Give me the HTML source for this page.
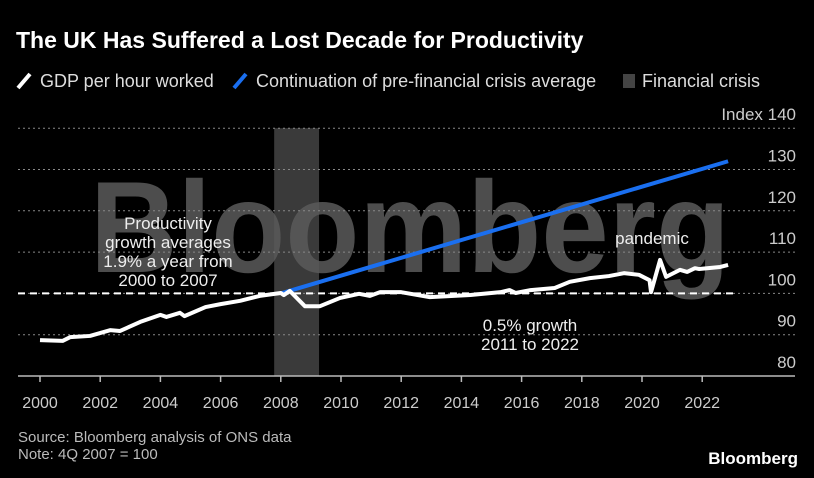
<!DOCTYPE html>
<html><head><meta charset="utf-8"><style>
html,body{margin:0;padding:0;background:#000;}
svg{display:block;font-family:"Liberation Sans",sans-serif;}
</style></head><body>
<svg id="c" width="814" height="478" viewBox="0 0 814 478">
<rect width="814" height="478" fill="#000"/>
<text x="16" y="48" fill="#fff" font-size="23" font-weight="bold">The UK Has Suffered a Lost Decade for Productivity</text>
<g font-size="18" fill="#ddd">
<line x1="18" y1="88" x2="30" y2="74" stroke="#fff" stroke-width="4"/>
<text x="40" y="87">GDP per hour worked</text>
<line x1="234" y1="88" x2="246" y2="74" stroke="#1a6ff0" stroke-width="4"/>
<text x="256" y="87">Continuation of pre-financial crisis average</text>
<rect x="623" y="74" width="12" height="14" fill="#444"/>
<text x="642" y="87">Financial crisis</text>
</g>
<g id="plot"></g>
<text x="18" y="442" fill="#bbb" font-size="15">Source: Bloomberg analysis of ONS data</text>
<text x="18" y="459" fill="#bbb" font-size="15">Note: 4Q 2007 = 100</text>
<text x="798" y="464" fill="#fff" font-size="17" font-weight="bold" text-anchor="end">Bloomberg</text>
</svg>
<script>
const yTicks=[80,90,100,110,120,130,140];
const xTicks=[2000,2002,2004,2006,2008,2010,2012,2014,2016,2018,2020,2022];
const gdpYears=[2000.0,2000.75,2001.0,2001.66,2002.33,2002.66,2003.33,2004.0,2004.2,2004.65,2004.8,2005.5,2006.0,2006.65,2007.3,2008.0,2008.1,2008.3,2008.8,2009.3,2009.97,2010.6,2010.96,2011.3,2012.0,2012.95,2014.3,2015.3,2015.6,2015.8,2016.3,2017.1,2017.6,2018.27,2018.9,2019.4,2019.9,2020.25,2020.3,2020.6,2020.8,2021.26,2021.5,2021.76,2021.9,2022.6,2022.86];
const gdpValues=[88.7,88.5,89.4,89.7,91.1,90.9,93.1,94.8,94.3,95.3,94.5,96.7,97.4,98.2,99.4,100.1,99.6,100.6,96.9,96.9,98.9,99.9,99.4,100.3,100.3,99.1,99.6,100.3,100.8,100.1,100.8,101.3,102.8,103.7,104.2,104.9,104.5,103.2,100.3,108.1,104.0,105.7,105.2,106.1,105.9,106.4,106.9];
const trendYears=[2008.0,2022.86];
const trendValues=[100,132];
const crisis=[2007.78,2009.27];
const baseValue=100;

const NS="http://www.w3.org/2000/svg";
const x=t=>40+(t-2000)*30.1;
const y=v=>376-(v-80)*4.13;
const g=document.getElementById('plot');
function mk(tag,attrs){const e=document.createElementNS(NS,tag);for(const k in attrs)e.setAttribute(k,attrs[k]);g.appendChild(e);return e;}

let r=mk('rect',{x:x(crisis[0]),y:y(140),width:x(crisis[1])-x(crisis[0]),height:y(80)-y(140),fill:'#3a3a3a'});



let wm=mk('text',{x:90,y:272,'font-size':130,'font-weight':'bold',fill:'#5a5a5a','fill-opacity':'0.85',textLength:640,lengthAdjust:'spacingAndGlyphs'});
wm.textContent='Bloomberg';



yTicks.forEach(v=>{
  if(v>80){let l=mk('line',{x1:18,x2:795,y1:y(v),y2:y(v),stroke:'#888','stroke-width':1,'stroke-dasharray':'2,3'});
  
  }
  let t=mk('text',{x:796,y:y(v)-8,'text-anchor':'end','font-size':17,fill:'#ccc'});
  t.textContent=(v===140?'Index ':'')+v;
  
  
});
let ax=mk('line',{x1:18,x2:795,y1:376,y2:376,stroke:'#bbb','stroke-width':1.5});


xTicks.forEach(t=>{
  let l=mk('line',{x1:x(t),x2:x(t),y1:376,y2:382,stroke:'#bbb','stroke-width':1.5});
  
  
  let tx=mk('text',{x:x(t),y:408,'text-anchor':'middle','font-size':16,fill:'#ccc'});
  tx.textContent=t;
  
  
});
let bl=mk('line',{x1:18,x2:737,y1:y(baseValue),y2:y(baseValue),stroke:'#fff','stroke-width':2,'stroke-dasharray':'7,5'});



let tr=mk('polyline',{points:trendYears.map((t,i)=>x(t)+','+y(trendValues[i])).join(' '),fill:'none',stroke:'#1a6ff0','stroke-width':4});


let gl=mk('polyline',{points:gdpYears.map((t,i)=>x(t)+','+y(gdpValues[i])).join(' '),fill:'none',stroke:'#fff','stroke-width':4,'stroke-linejoin':'round'});



function ann(lines,cx,y0,name){
  let t=mk('text',{x:cx,y:y0,'text-anchor':'middle','font-size':17,fill:'#eee'});
  
  
  lines.forEach((s,i)=>{const sp=document.createElementNS(NS,'tspan');sp.setAttribute('x',cx);sp.setAttribute('dy',i?19:0);sp.textContent=s;t.appendChild(sp);});
}
ann(['Productivity','growth averages','1.9% a year from','2000 to 2007'],168,229,'productivity-annotation');
ann(['pandemic'],652,244,'pandemic-annotation');
ann(['0.5% growth','2011 to 2022'],530,331,'growth-annotation');
</script>
</body></html>
